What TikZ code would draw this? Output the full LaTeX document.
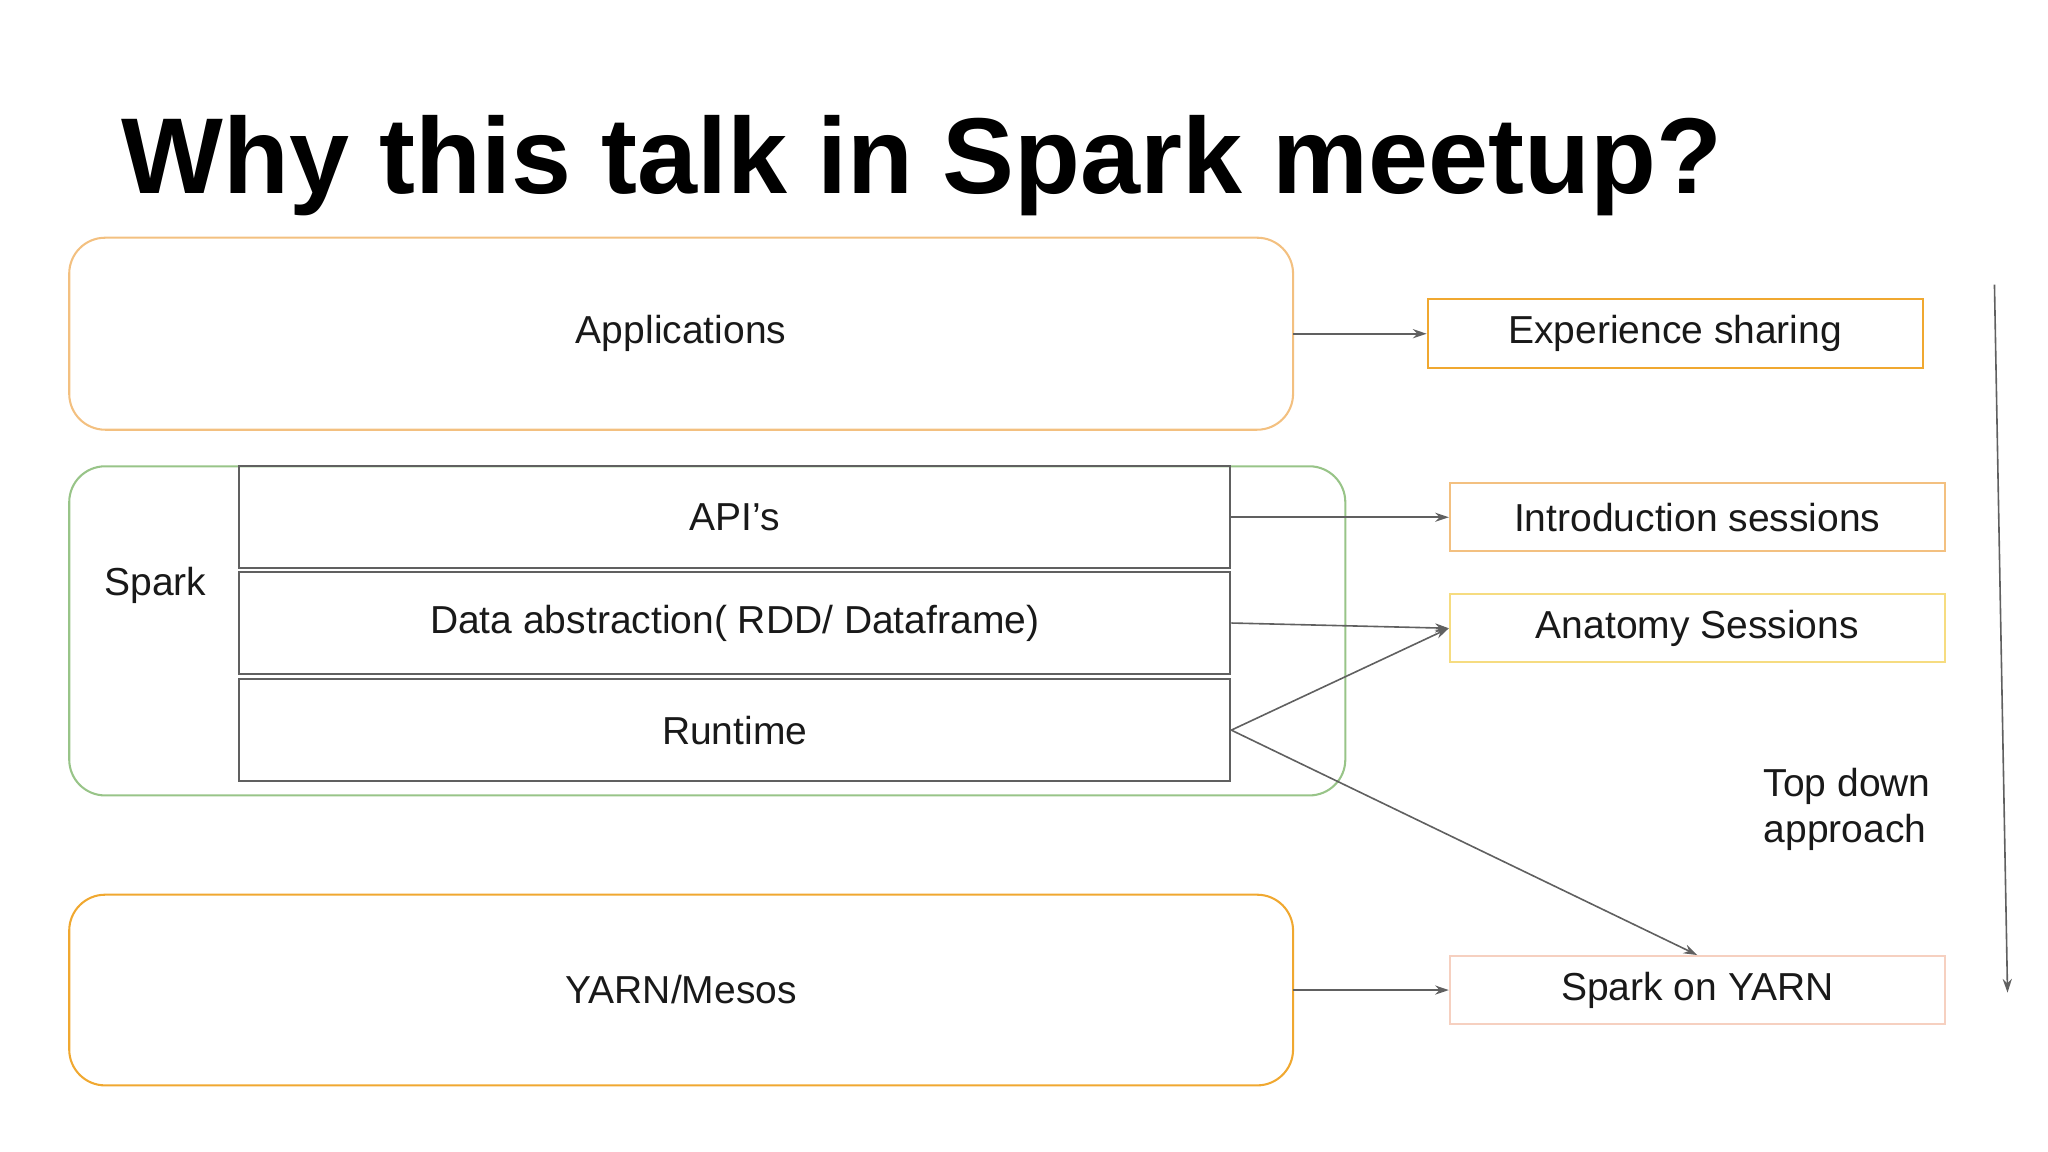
\documentclass[tikz,border=0pt]{standalone}
\usepackage{fontspec}
\setmainfont{Liberation Sans}
\usetikzlibrary{arrows.meta}
\definecolor{org}{HTML}{F0A830}
\definecolor{lorg}{HTML}{F3C080}
\definecolor{grn}{HTML}{98C488}
\definecolor{gry}{HTML}{606060}
\definecolor{ylw}{HTML}{F6DC80}
\definecolor{pnk}{HTML}{F6D0C0}
\begin{document}
\begin{tikzpicture}[x=0.02cm,y=-0.02cm,
 big/.style={draw=#1,rounded corners=0.55cm,line width=0.9pt},
 lay/.style={draw=gry,line width=0.9pt,inner sep=0pt},
 tag/.style={draw=#1,line width=0.9pt,inner sep=0pt},
 txt/.style={font=\fontsize{17}{20}\selectfont,text=black!90},
 arr/.style={draw=gry,line width=0.7pt,-{Stealth[length=6pt,width=4pt]}}]
\useasboundingbox (0,0) rectangle (1568,882);
\node[anchor=base west,font=\bfseries\fontsize{47}{50}\selectfont,inner sep=0pt] (title) at (93,148) {Why this talk in Spark meetup?};
% Applications
\draw[big=lorg] (53,182) rectangle (990,329);
\node[txt,minimum width=18.74cm,minimum height=2.94cm,inner sep=0pt] (app) at (521.5,255.5) {Applications};
% Spark
\draw[big=grn] (53,357) rectangle (1030,609);
\node[txt] (spark) at (119,448) {Spark};
\node[lay,txt,minimum width=15.18cm,minimum height=1.56cm] (api) at (562.5,396) {API’s};
\node[lay,txt,minimum width=15.18cm,minimum height=1.56cm] (data) at (562.5,477) {Data abstraction( RDD/ Dataframe)};
\node[lay,txt,minimum width=15.18cm,minimum height=1.56cm] (run) at (562.5,559) {Runtime};
% YARN
\draw[big=org] (53,685) rectangle (990,831);
\node[txt,minimum width=18.74cm,minimum height=2.92cm,inner sep=0pt] (yarn) at (521.5,758) {YARN/Mesos};
% right boxes
\node[tag=org,txt,minimum width=7.58cm,minimum height=1.06cm] (exp) at (1282.5,255.5) {Experience sharing};
\node[tag=lorg,txt,minimum width=7.58cm,minimum height=1.04cm] (intro) at (1299.5,396) {Introduction sessions};
\node[tag=ylw,txt,minimum width=7.58cm,minimum height=1.04cm] (anat) at (1299.5,481) {Anatomy Sessions};
\node[tag=pnk,txt,minimum width=7.58cm,minimum height=1.04cm] (soy) at (1299.5,758) {Spark on YARN};
\node[txt,align=left,anchor=north west,inner sep=0pt] (td) at (1350,588) {Top down\\approach};
% arrows
\draw[arr] (990,255.5) -- (exp.west);
\draw[arr] (api.east) -- (intro.west);
\draw[arr] (data.east) -- (anat.west);
\draw[arr] (run.east) -- (anat.west);
\draw[arr] (run.east) -- (soy.north);
\draw[arr] (yarn.east) -- (soy.west);
\coordinate (ts) at (1527,218);
\coordinate (te) at (1537,760);
\draw[arr] (ts) -- (te);
\end{tikzpicture}
\end{document}
